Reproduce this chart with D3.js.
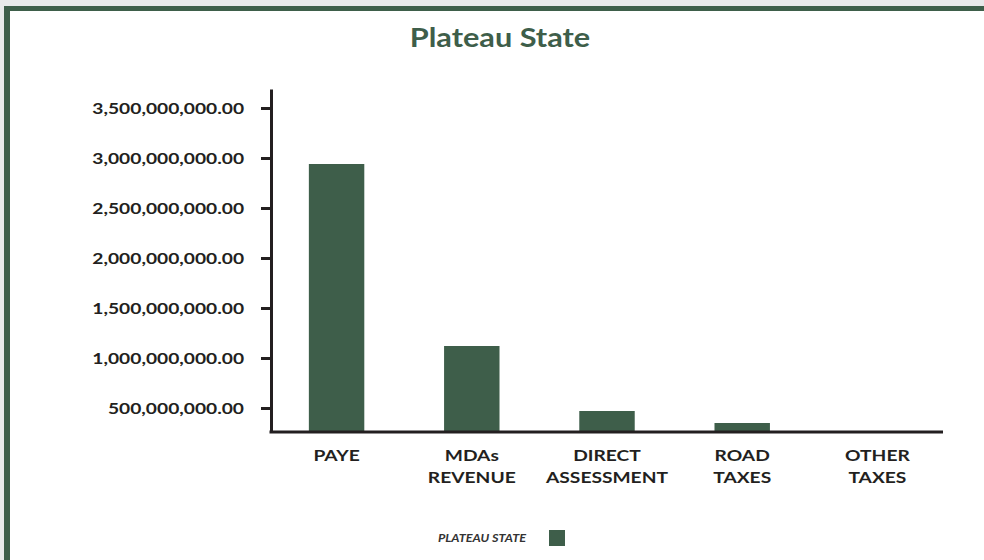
<!DOCTYPE html>
<html>
<head>
<meta charset="utf-8">
<script src="https://cdn.jsdelivr.net/npm/d3@7"></script>
<style>
  body { margin: 0; background: #e8e9ea; }
  svg { display: block; font-family: Lato, "Open Sans", sans-serif; }
</style>
</head>
<body>
<div id="chart"></div>
<script>
// data
const categories = ["PAYE", "MDAs REVENUE", "DIRECT ASSESSMENT", "ROAD TAXES", "OTHER TAXES"];
const labelLines = [["PAYE"], ["MDAs", "REVENUE"], ["DIRECT", "ASSESSMENT"], ["ROAD", "TAXES"], ["OTHER", "TAXES"]];
const values = [2940000000, 1120000000, 470000000, 350000000, 150000000];
const yTicks = [500000000, 1000000000, 1500000000, 2000000000, 2500000000, 3000000000, 3500000000];
const seriesName = "PLATEAU STATE";
const chartTitle = "Plateau State";

const W = 984, H = 560;
const green = "#3e5e4a";
const ink = "#231f20";
const margin = {top: 89, right: 41, bottom: 128, left: 271};
// the original lettering is a bit wider than Lato
const stretch = 1.2;

function widen(sel, k) {
  sel.each(function() {
    const len = this.getComputedTextLength();
    d3.select(this)
      .attr("textLength", len * k)
      .attr("lengthAdjust", "spacingAndGlyphs");
  });
}

const svg = d3.select("#chart").append("svg")
  .attr("width", W)
  .attr("height", H);

// frame
svg.append("rect").attr("x", 4).attr("y", 6).attr("width", W).attr("height", H).attr("fill", green);
svg.append("rect").attr("x", 10).attr("y", 11).attr("width", W).attr("height", H).attr("fill", "#fff");

svg.append("text")
  .attr("x", 500)
  .attr("y", 47)
  .attr("text-anchor", "middle")
  .attr("fill", green)
  .style("font-size", "26px")
  .style("font-weight", 700)
  .text(chartTitle)
  .call(widen, 1.18);

const x = d3.scaleBand()
  .domain(categories)
  .range([margin.left, W - margin.right])
  .paddingInner(0.59)
  .paddingOuter(0.28);

// axis does not start at zero in the original
const y = d3.scaleLinear()
  .domain([260000000, 3690000000])
  .range([H - margin.bottom, margin.top]);

const baseY = y.range()[0];

svg.append("g")
  .selectAll("rect")
  .data(values)
  .join("rect")
    .attr("x", (d, i) => x(categories[i]))
    .attr("width", x.bandwidth())
    .attr("y", d => Math.min(y(d), baseY))
    .attr("height", d => Math.max(0, baseY - y(d)))
    .attr("fill", green);

const yAxis = d3.axisLeft(y)
  .tickValues(yTicks)
  .tickFormat(d3.format(",.2f"))
  .tickSize(10)
  .tickSizeOuter(0)
  .tickPadding(17);

const yAxisG = svg.append("g")
  .attr("transform", "translate(" + margin.left + ",0)")
  .call(yAxis);
yAxisG.select(".domain").attr("stroke", ink).attr("stroke-width", 3);
yAxisG.selectAll(".tick line").attr("stroke", ink).attr("stroke-width", 3);
yAxisG.selectAll(".tick text")
  .attr("fill", ink)
  .style("font-size", "16px")
  .style("font-weight", 700)
  .style("font-family", "Lato, sans-serif")
  .call(widen, stretch);

// x axis line
svg.append("line")
  .attr("x1", margin.left - 1.5)
  .attr("x2", W - margin.right)
  .attr("y1", baseY)
  .attr("y2", baseY)
  .attr("stroke", ink)
  .attr("stroke-width", 3);

const xLabels = svg.append("g")
  .selectAll("text")
  .data(labelLines)
  .join("text")
    .attr("x", (d, i) => x(categories[i]) + x.bandwidth() / 2)
    .attr("y", baseY + 29)
    .attr("text-anchor", "middle")
    .attr("fill", ink)
    .style("font-size", "16px")
    .style("font-weight", 700);

xLabels.selectAll("tspan")
  .data(d => d)
  .join("tspan")
    .attr("x", function() { return d3.select(this.parentNode).attr("x"); })
    .attr("dy", (d, i) => i === 0 ? 0 : 22)
    .text(d => d)
    .each(function() {
      const len = this.getComputedTextLength();
      d3.select(this).attr("textLength", len * stretch).attr("lengthAdjust", "spacingAndGlyphs");
    });

// legend
svg.append("text")
  .attr("x", 526)
  .attr("y", 542)
  .attr("text-anchor", "end")
  .attr("fill", "#333")
  .style("font-size", "11px")
  .style("font-weight", 700)
  .style("font-style", "italic")
  .text(seriesName)
  .call(widen, 1.15);

svg.append("rect")
  .attr("x", 549)
  .attr("y", 530)
  .attr("width", 16)
  .attr("height", 16)
  .attr("fill", green);
</script>
</body>
</html>
